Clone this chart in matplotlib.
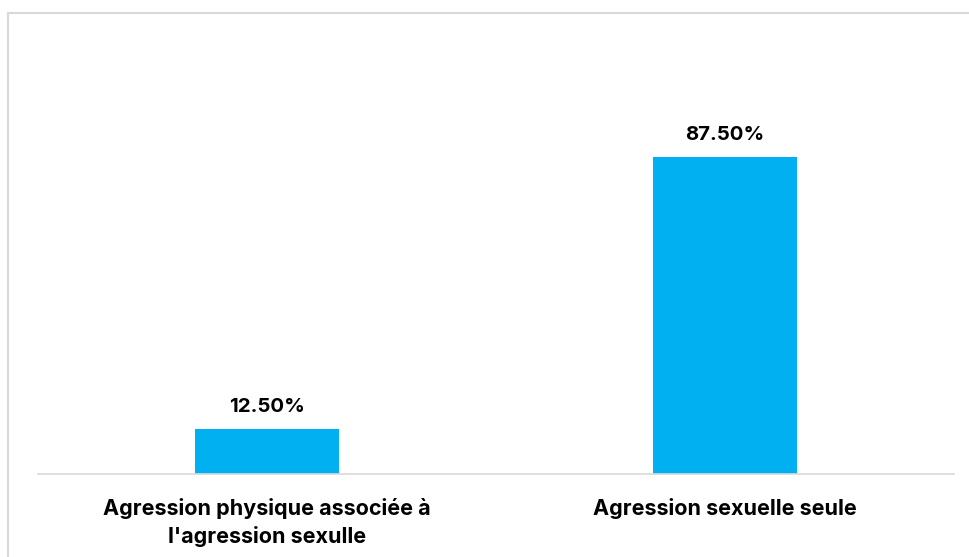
import matplotlib
matplotlib.use("Agg")
import matplotlib.pyplot as plt
from matplotlib.patches import Rectangle

categories = ["Agression physique associée à\nl'agression sexulle", "Agression sexuelle seule"]
values = [12.5, 87.5]
labels = ["12.50%", "87.50%"]

plt.rcParams['font.family'] = ['Inter', 'DejaVu Sans']

fig = plt.figure(figsize=(9.7, 5.57), dpi=100)
# light grey frame of the chart area (cut off on the right and bottom)
fig.patches.append(Rectangle((8.5 / 970, -0.2), 1.2, 0.2 + (557 - 12.5) / 557,
                             transform=fig.transFigure, fill=False,
                             edgecolor='#d9d9d9', linewidth=1.5))

ax = fig.add_axes([38 / 970, (557 - 474) / 557, 916 / 970, 362 / 557])
x = range(len(categories))
bars = ax.bar(x, values, width=0.314, color='#00B0F0')
ax.set_xlim(-0.5, 1.5)
ax.set_ylim(0, 100)

for b, lab in zip(bars, labels):
    ax.annotate(lab, (b.get_x() + b.get_width() / 2, b.get_height()),
                xytext=(0, 9.5), textcoords='offset points', ha='center', va='bottom',
                fontsize=14.7, fontweight='bold')

ax.set_xticks(list(x))
ax.set_xticklabels(categories, fontsize=15.5, fontweight='bold', linespacing=1.45)
ax.tick_params(axis='x', length=0, pad=17)
ax.set_yticks([])
for s in ['top', 'right', 'left']:
    ax.spines[s].set_visible(False)
ax.spines['bottom'].set_color('#d9d9d9')
ax.spines['bottom'].set_linewidth(1.2)

fig.savefig('out.png', dpi=100)
